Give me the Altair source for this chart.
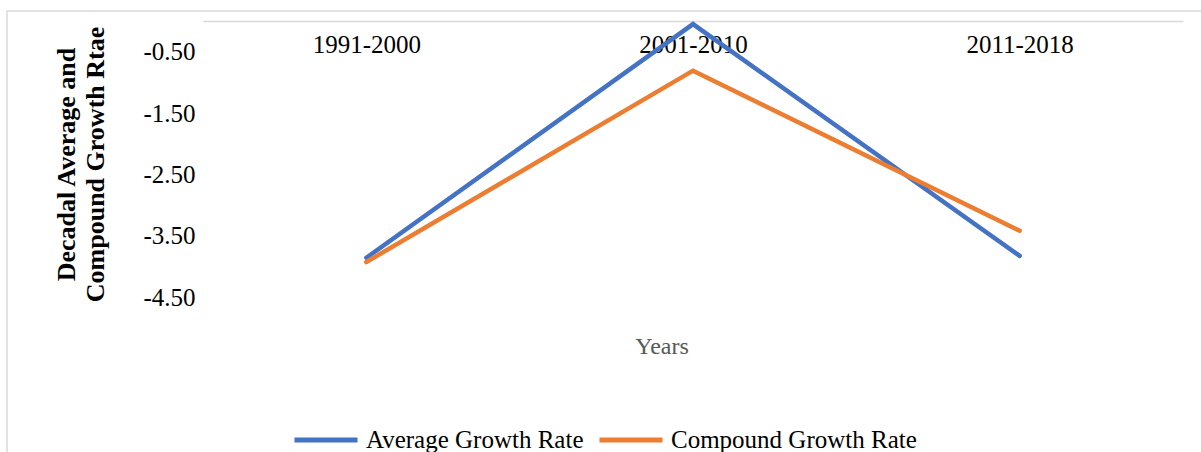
import altair as alt
import pandas as pd

periods = ["1991-2000", "2001-2010", "2011-2018"]
average_growth = [-3.86, -0.05, -3.83]
compound_growth = [-3.93, -0.81, -3.42]
series_names = ["Average Growth Rate", "Compound Growth Rate"]
y_ticks = [-0.5, -1.5, -2.5, -3.5, -4.5]

rows = []
for p, a, c in zip(periods, average_growth, compound_growth):
    rows.append({"period": p, "series": series_names[0], "value": a})
    rows.append({"period": p, "series": series_names[1], "value": c})
df = pd.DataFrame(rows)

FONT = "Liberation Serif"
W, H = 980, 276

lines = alt.Chart(df).mark_line(strokeWidth=4.5, strokeCap="round", strokeJoin="miter").encode(
    x=alt.X("period:N", sort=periods,
            scale=alt.Scale(type="point", padding=0.5),
            axis=alt.Axis(orient="bottom", offset=-H, title=None, labelAngle=0,
                          domainColor="#d9d9d9", domainWidth=1.5, ticks=False,
                          labelFont=FONT, labelFontSize=25, labelColor="#000000",
                          labelPadding=11, labelBaseline="top")),
    y=alt.Y("value:Q", scale=alt.Scale(domain=[-4.5, 0], nice=False, zero=False),
            axis=alt.Axis(values=y_ticks, format=".2f",
                          labelExpr="replace(datum.label, '\u2212', '-')",
                          grid=False, domain=False, ticks=False,
                          labelFont=FONT, labelFontSize=25, labelColor="#000000", labelPadding=8,
                          title=["Decadal Average and", "Compound Growth Rtae"],
                          titleFont=FONT, titleFontSize=26, titleFontWeight="bold",
                          titleColor="#000000", titleAngle=-90, titleX=-137, titleY=143,
                          titleAlign="center", titleBaseline="middle", titleLineHeight=29)),
    color=alt.Color("series:N", sort=series_names,
                    scale=alt.Scale(domain=series_names, range=["#4472C4", "#ED7D31"]),
                    legend=alt.Legend(title=None, orient="none", direction="horizontal",
                                      legendX=89, legendY=385,
                                      symbolType="stroke", symbolSize=3969, symbolStrokeWidth=5,
                                      labelFont=FONT, labelFontSize=25, labelColor="#000000",
                                      labelLimit=400, labelOffset=6, columnPadding=5)),
)

years = alt.Chart(pd.DataFrame({"t": ["Years"]})).mark_text(
    font=FONT, fontSize=24, color="#595959", align="center", baseline="middle"
).encode(text="t:N", x=alt.value(459), y=alt.value(326))

border_top = alt.Chart(pd.DataFrame({"a": [0]})).mark_rule(color="#d9d9d9", strokeWidth=1.5).encode(
    x=alt.value(-196), x2=alt.value(1010), y=alt.value(-10))
border_left = alt.Chart(pd.DataFrame({"a": [0]})).mark_rule(color="#d9d9d9", strokeWidth=1.5).encode(
    x=alt.value(-196), y=alt.value(-10), y2=alt.value(440))

chart = alt.layer(border_top, border_left, lines, years).properties(
    width=W, height=H,
    autosize=alt.AutoSizeParams(type="none"),
    padding={"left": 203, "top": 21, "right": 18, "bottom": 155},
    background="#ffffff",
).configure_view(stroke=None)

chart.save("out.html", embed_options={"renderer": "svg", "actions": False})
